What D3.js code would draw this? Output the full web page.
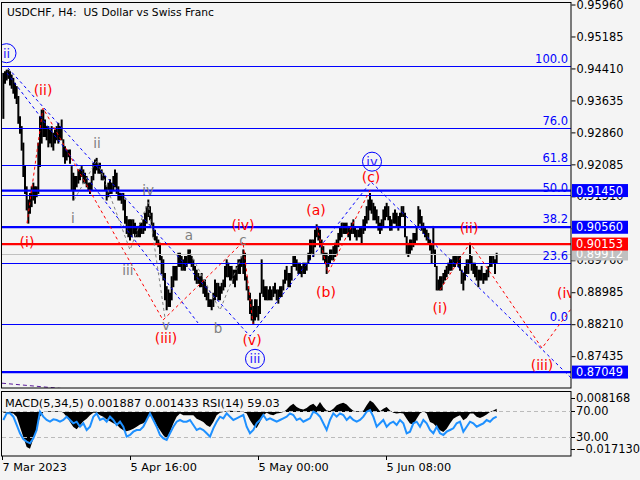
<!DOCTYPE html>
<html><head><meta charset="utf-8">
<script src="https://cdn.jsdelivr.net/npm/d3@7/dist/d3.min.js"></script>
<style>body{margin:0;background:#f4f4f4;}svg{display:block;}text{font-family:"DejaVu Sans",sans-serif;}</style>
</head><body><svg id="c" width="640" height="480"></svg>
<script>
// ---------- DATA ----------
const title = "USDCHF, H4:  US Dollar vs Swiss Franc";
const highs = [.9429,.9433,.9437,.9437,.9433,.9425,.9417,.9405,.9397,.9373,.9324,.9300,.9260,.9203,.9154,.9122,.9138,.9154,.9163,.9154,
.9154,.9260,.9324,.9340,.9340,.9316,.9300,.9300,.9292,.9300,.9284,.9292,.9300,.9308,.9300,.9316,.9268,.9251,.9243,.9243,
.9243,.9203,.9187,.9179,.9179,.9195,.9195,.9203,.9195,.9187,.9179,.9163,.9163,.9179,.9211,.9219,.9223,.9211,.9211,.9195,
.9187,.9179,.9154,.9163,.9171,.9163,.9179,.9195,.9187,.9154,.9138,.9138,.9138,.9122,.9082,.9074,.9074,.9074,.9074,.9066,
.9058,.9058,.9066,.9066,.9074,.9090,.9106,.9122,.9106,.9090,.9066,.9049,.9033,.9025,.9017,.8985,.8977,.8944,.8912,.8904,
.8896,.8936,.8961,.8961,.8961,.8993,.8993,.8985,.8977,.8985,.8985,.9001,.9001,.8985,.8977,.8961,.8952,.8944,.8936,.8944,
.8928,.8928,.8912,.8896,.8880,.8880,.8896,.8928,.8920,.8920,.8912,.8920,.8928,.8961,.8977,.8969,.8961,.8961,.8952,.8952,
.8961,.8977,.8977,.8985,.9001,.8993,.8936,.8912,.8896,.8880,.8864,.8880,.8880,.8864,.8896,.8977,.8928,.8912,.8912,.8904,
.8912,.8904,.8912,.8920,.8904,.8904,.8912,.8912,.8928,.8952,.8961,.8944,.8944,.8961,.8985,.8985,.8977,.8969,.8969,.8961,
.8969,.8969,.8969,.8993,.9025,.9025,.9025,.9049,.9062,.9058,.9049,.9025,.9009,.8993,.8993,.8985,.9001,.9001,.9009,.9017,
.9025,.9041,.9058,.9066,.9066,.9066,.9066,.9058,.9058,.9066,.9074,.9058,.9049,.9049,.9058,.9058,.9074,.9082,.9106,.9122,
.9138,.9122,.9114,.9106,.9098,.9082,.9066,.9074,.9098,.9106,.9114,.9106,.9082,.9074,.9090,.9098,.9090,.9082,.9090,.9106,
.9106,.9090,.9033,.9017,.9025,.9025,.9041,.9041,.9058,.9106,.9098,.9082,.9066,.9058,.9049,.9041,.9025,.9017,.9058,.9001,
.8961,.8928,.8936,.8936,.8944,.8952,.8961,.8969,.8977,.8977,.8985,.8985,.8985,.8985,.8985,.8952,.8944,.8961,.8977,.8977,
.9017,.8985,.8969,.8969,.8961,.8952,.8952,.8961,.8944,.8944,.8952,.8961,.8985,.8985,.8985,.8977,.8993];
const lows = [.9320,.9405,.9413,.9417,.9401,.9393,.9381,.9369,.9356,.9308,.9284,.9243,.9179,.9138,.9098,.9066,.9090,.9106,.9122,.9114,
.9130,.9138,.9203,.9260,.9276,.9276,.9268,.9251,.9260,.9251,.9243,.9260,.9268,.9260,.9268,.9268,.9227,.9211,.9219,.9227,
.9211,.9146,.9122,.9146,.9154,.9163,.9171,.9179,.9163,.9163,.9154,.9146,.9138,.9146,.9171,.9187,.9195,.9187,.9187,.9171,
.9171,.9146,.9122,.9130,.9138,.9138,.9146,.9154,.9138,.9122,.9122,.9114,.9098,.9066,.9041,.9033,.9025,.9033,.9041,.9033,
.9033,.9033,.9033,.9041,.9041,.9049,.9066,.9082,.9074,.9058,.9033,.9025,.9017,.9009,.8977,.8944,.8928,.8880,.8856,.8864,
.8864,.8880,.8912,.8928,.8928,.8961,.8961,.8952,.8952,.8952,.8961,.8969,.8969,.8961,.8952,.8928,.8920,.8920,.8912,.8912,
.8896,.8888,.8880,.8864,.8864,.8856,.8864,.8880,.8888,.8880,.8880,.8896,.8904,.8912,.8936,.8936,.8928,.8928,.8920,.8912,
.8928,.8944,.8944,.8961,.8944,.8928,.8904,.8880,.8847,.8831,.8823,.8831,.8839,.8831,.8847,.8896,.8888,.8880,.8880,.8880,
.8880,.8880,.8888,.8896,.8880,.8872,.8888,.8888,.8904,.8920,.8928,.8912,.8912,.8928,.8961,.8961,.8952,.8944,.8944,.8936,
.8944,.8944,.8952,.8969,.8977,.8993,.8985,.9009,.9033,.9025,.9009,.8993,.8977,.8969,.8944,.8961,.8969,.8977,.8977,.8985,
.8993,.9009,.9025,.9033,.9041,.9041,.9041,.9033,.9025,.9041,.9041,.9033,.9025,.9033,.9033,.9017,.9041,.9049,.9066,.9074,
.9098,.9090,.9074,.9074,.9066,.9049,.9041,.9049,.9058,.9074,.9082,.9074,.9049,.9049,.9066,.9066,.9058,.9049,.9058,.9082,
.9082,.9033,.8993,.8985,.8993,.9001,.9009,.9017,.9025,.9058,.9066,.9049,.9041,.9033,.9025,.9017,.9001,.8969,.8993,.8961,
.8904,.8904,.8904,.8904,.8920,.8928,.8936,.8944,.8952,.8952,.8961,.8961,.8969,.8961,.8952,.8920,.8904,.8928,.8944,.8944,
.8969,.8952,.8944,.8936,.8928,.8912,.8928,.8928,.8920,.8928,.8928,.8936,.8961,.8961,.8969,.8944,.8969];
const lastPrice = 0.89912;
const priceTicks = [0.95960,0.95185,0.94410,0.93635,0.92860,0.92085,0.91310,0.90535,0.89760,0.88985,0.88210,0.87435];
const fibHigh = 0.94462, fibLow = 0.88208;
const fibLevels = [100.0,76.0,61.8,50.0,38.2,23.6,0.0];
const blueLevels = [0.91450,0.90560,0.87049];
const redLevels = [0.90153];
const xTickLabels = ["7 Mar 2023","5 Apr 16:00","5 May 00:00","5 Jun 08:00"];
const xTickIndex = [-0.8,76,152.8,229.6];
// MACD histogram and RSI, one value every 2 bars
const macdHist = [-0.0003,-0.0003,-0.0004,-0.0006,-0.0019,-0.0058,-0.0097,-0.0136,-0.0143,-0.0104,-0.0065,-0.0019,0,0.0003,0.0003,0.0003,0.0003,0.0003,-0.0003,-0.0019,
-0.0039,-0.0058,-0.0067,-0.0052,-0.0036,-0.0026,-0.0013,-0.0003,-0.0003,-0.0013,-0.0019,-0.0029,-0.0036,-0.0044,-0.0049,-0.0062,-0.0071,-0.0075,-0.0071,-0.0065,
-0.0057,-0.0049,-0.0044,-0.0032,-0.0013,-0.0026,-0.0052,-0.0071,-0.0091,-0.0104,-0.0078,-0.0045,-0.0019,-0.0006,-0.0013,-0.0013,-0.0013,-0.0013,-0.0026,-0.0032,
-0.0039,-0.0052,-0.0058,-0.0039,-0.0013,-0.0003,0,0.0004,0.0005,0.0004,0.0003,0.0003,0,-0.0006,-0.0032,-0.0052,-0.0062,-0.0039,-0.0013,-0.0003,
-0.0010,-0.0013,-0.0006,-0.0004,0,0.0010,0.0023,0.0032,0.0019,0.0013,0.0010,0.0016,0.0026,0.0032,0.0019,0.0039,0.0019,0.0006,0.0004,0.0013,
0.0026,0.0032,0.0036,0.0029,0.0016,0.0005,0.0003,0.0003,0.0005,0.0026,0.0045,0.0036,0.0019,0.0003,0.0013,0.0019,0.0006,-0.0003,-0.0006,-0.0004,
-0.0006,-0.0026,-0.0045,-0.0049,-0.0026,-0.0006,0.0003,-0.0006,-0.0039,-0.0045,-0.0058,-0.0071,-0.0078,-0.0065,-0.0045,-0.0026,-0.0019,-0.0013,-0.0032,-0.0023,
-0.0006,-0.0006,-0.0019,-0.0023,-0.0018,-0.0010,0,0.0006,0.0013];
const rsiVals = [55.4,65.6,65.6,60.5,47.7,34.9,25.9,22.1,19.5,27.2,40.0,68.2,60.5,55.4,52.8,56.4,55.4,52.8,55.4,60.5,
55.4,50.3,52.8,45.1,50.3,40.0,45.1,60.5,65.6,55.4,57.9,52.8,60.5,55.4,47.7,52.8,45.1,29.7,32.3,37.4,
40.0,40.0,45.1,55.4,65.6,55.4,45.1,32.3,27.2,24.6,34.9,45.1,52.8,55.4,52.8,52.8,55.4,47.7,40.0,42.6,
40.0,34.9,29.7,42.6,52.8,60.5,57.9,65.6,60.5,55.4,57.9,60.5,63.1,45.1,34.9,40.0,50.3,55.4,63.1,55.4,
57.9,55.4,52.8,55.4,57.9,60.5,65.6,63.1,55.4,57.9,52.8,55.4,57.9,68.2,65.6,
60.5,50.3,40.0,55.4,65.6,60.5,65.6,63.1,55.4,60.5,55.4,52.8,55.4,60.5,68.2,70.8,60.5,45.1,50.3,55.4,
45.1,50.3,52.8,47.7,55.4,50.3,34.9,37.4,50.3,52.8,45.1,55.4,50.3,40.0,34.9,45.1,34.9,32.3,37.4,40.0,
42.6,50.3,52.8,37.4,45.1,52.8,50.3,45.1,47.7,50.3,55.4,52.8,57.9,60.5];
const macdMax = 0.008168, macdMin = -0.017130;
const rsiLevels = [70, 30];
const indicatorText = "MACD(5,34,5) 0.001887 0.001433 RSI(14) 59.03";
// wave paths: [bar index, price]
const blueWave = [[2.8,0.9442],[148,0.8792],[220.6,0.9166],[340.6,0.8691]];
const blueChannel = [[2.2,0.9430],[116.8,0.8824]];
const redWaveA = [[14.2,0.9066],[23.8,0.9345],[95.8,0.8831],[143.8,0.9020],[149.8,0.8822]];
const redWaveB = [[188.2,0.9057],[194.8,0.8945],[220,0.9146]];
const redWaveC = [[262,0.8904],[280,0.9018],[323.2,0.8763],[349,0.8904]];
const grayWaveA = [[42.4,0.9122],[56.2,0.9219],[76,0.9001],[86.8,0.9117],[97,0.8836]];
const grayWaveB = [[112,0.8994],[130,0.8855],[143.8,0.8994]];
const purpleLine = [[-0.8,0.8678],[46,0.8661]];
const redLabels = [["(i)",14.2,0.9020],["(ii)",23.8,0.9389],["(iii)",97.6,0.8788],["(iv)",143.8,0.9061],["(v)",149.2,0.8783],
 ["(a)",187.6,0.9098],["(b)",193.6,0.8899],["(c)",220.6,0.9178],["(i)",262,0.8860],["(ii)",279.4,0.9054],["(iii)",323.2,0.8722],["(iv)",339.1,0.8897]];
const grayLabels = [["i",41.8,0.9078],["ii",56.2,0.9260],["iii",74.8,0.8952],["iv",86.8,0.9146],["v",97.6,0.8819],
 ["a",111.4,0.9037],["b",128.8,0.8812],["c",143.8,0.9025]];
const circleLabels = [["ii",1.9,0.9478],["iii",151,0.8737],["iv",221.2,0.9215]];

// ---------- LAYOUT ----------
const L=2, R=571, T=2, B=388, ST=391, SB=456;
const BLUE="#0000ff", RED="#ff0000", GRAY="#808080";
const svg = d3.select("#c");
svg.append("rect").attr("width",640).attr("height",480).attr("fill","#f4f4f4");
const defs = svg.append("defs");
defs.append("clipPath").attr("id","mainClip").append("rect").attr("x",L).attr("y",T).attr("width",R-L).attr("height",B-T);
defs.append("clipPath").attr("id","subClip").append("rect").attr("x",L).attr("y",ST).attr("width",R-L).attr("height",SB-ST);

const x = d3.scaleLinear().domain([0, highs.length-1]).range([10/3, 1490/3]);
const y = d3.scaleLinear().domain([0.86663, 0.96021]).range([B, T]);
const ym = d3.scaleLinear().domain([macdMin, macdMax]).range([SB, ST]);
const yr = d3.scaleLinear().domain([0, 100]).range([SB, ST]);
const snap = v => Math.round(v) + 0.5;

const main = svg.append("g").attr("clip-path","url(#mainClip)");

// bars
main.append("g").selectAll("line").data(highs).join("line")
  .attr("x1",(d,i)=>x(i)).attr("x2",(d,i)=>x(i))
  .attr("y1",d=>y(d)-0.5).attr("y2",(d,i)=>y(lows[i])+0.5)
  .attr("stroke","#000").attr("stroke-width",2);

// current price line
main.append("line").attr("x1",L).attr("x2",R).attr("y1",snap(y(lastPrice))).attr("y2",snap(y(lastPrice)))
  .attr("stroke","#c0c0c0").attr("stroke-width",1);

// fibonacci
const fibPrice = l => fibLow + (fibHigh - fibLow) * l / 100;
main.append("g").selectAll("line").data(fibLevels).join("line")
  .attr("x1",L).attr("x2",R).attr("y1",d=>snap(y(fibPrice(d)))).attr("y2",d=>snap(y(fibPrice(d))))
  .attr("stroke",BLUE).attr("stroke-width",1);
main.append("g").selectAll("text").data(fibLevels).join("text")
  .attr("x",568).attr("y",d=>y(fibPrice(d))-3).attr("text-anchor","end")
  .attr("font-size","11.5px").attr("fill",BLUE).text(d=>d.toFixed(1));

// level lines
main.append("g").selectAll("line").data(blueLevels).join("line")
  .attr("x1",L).attr("x2",R).attr("y1",d=>y(d)).attr("y2",d=>y(d))
  .attr("stroke",BLUE).attr("stroke-width",2.2);
main.append("g").selectAll("line").data(redLevels).join("line")
  .attr("x1",L).attr("x2",R).attr("y1",d=>y(d)).attr("y2",d=>y(d))
  .attr("stroke",RED).attr("stroke-width",2.2);

// wave lines
const lineGen = d3.line().x(d=>x(d[0])).y(d=>y(d[1]));
function wave(data,color,dash){
  main.append("path").attr("d",lineGen(data)).attr("fill","none")
    .attr("stroke",color).attr("stroke-width",1).attr("stroke-dasharray",dash);
}
wave(blueChannel,BLUE,"3,3");
wave(blueWave,BLUE,"3,3");
wave(grayWaveA,GRAY,"3,3");
wave(grayWaveB,GRAY,"3,3");
wave(redWaveA,RED,"3,3");
wave(redWaveB,RED,"3,3");
wave(redWaveC,RED,"3,3");
wave(purpleLine,"#5a1a9a","4,3");

// labels
main.append("g").selectAll("text").data(grayLabels).join("text")
  .attr("x",d=>x(d[1])).attr("y",d=>y(d[2])).attr("text-anchor","middle").attr("dominant-baseline","central")
  .attr("font-size","13.5px").attr("fill",GRAY).text(d=>d[0]);
const cg = main.append("g").selectAll("g").data(circleLabels).join("g")
  .attr("transform",d=>`translate(${x(d[1])},${y(d[2])})`);
cg.append("circle").attr("r",9.5).attr("fill","none").attr("stroke",BLUE).attr("stroke-width",1);
cg.append("text").attr("text-anchor","middle").attr("dominant-baseline","central")
  .attr("font-size","13px").attr("fill","#2a1aff").text(d=>d[0]);
main.append("g").selectAll("text").data(redLabels).join("text")
  .attr("x",d=>x(d[1])).attr("y",d=>y(d[2])).attr("text-anchor","middle").attr("dominant-baseline","central")
  .attr("font-size","14px").attr("fill",RED).text(d=>d[0]);

// title
svg.append("text").attr("x",7).attr("y",16).attr("font-size","10.7px").attr("fill","#000")
  .style("white-space","pre").attr("xml:space","preserve").text(title);

// frames
svg.append("rect").attr("x",L-0.5).attr("y",T+0.5).attr("width",R-L+0.5).attr("height",B-T-0.5)
  .attr("fill","none").attr("stroke","#000").attr("stroke-width",1);
svg.append("rect").attr("x",L-0.5).attr("y",ST+0.5).attr("width",R-L+0.5).attr("height",SB-ST-0.5)
  .attr("fill","none").attr("stroke","#000").attr("stroke-width",1);

// price axis
const pa = svg.append("g").attr("transform",`translate(${R+0.5},0)`)
  .call(d3.axisRight(y).tickValues(priceTicks).tickSize(4).tickPadding(1).tickFormat(d3.format(".5f")));
pa.select(".domain").remove();
pa.selectAll("text").attr("font-size","11.4px").attr("font-family","DejaVu Sans").attr("fill","#000");
pa.selectAll("line").attr("stroke","#000");

// price boxes
function priceBox(p,color){
  const g = svg.append("g").attr("transform",`translate(${R+1},${y(p)})`);
  g.append("rect").attr("x",0).attr("y",-6.5).attr("width",56).attr("height",13).attr("fill",color);
  g.append("text").attr("x",4).attr("y",0).attr("dominant-baseline","central")
    .attr("font-size","11.4px").attr("fill","#fff").text(d3.format(".5f")(p));
}
priceBox(lastPrice,"#c0c0c0");
redLevels.forEach(p=>priceBox(p,RED));
blueLevels.forEach(p=>priceBox(p,BLUE));

// ---------- SUB PANEL ----------
const sub = svg.append("g").attr("clip-path","url(#subClip)");
sub.append("path").datum(macdHist)
  .attr("d",d3.area().x((d,i)=>x(2*i)).y0(ym(0)).y1(d=>ym(d)))
  .attr("fill","#000");
sub.append("g").selectAll("line").data(rsiLevels).join("line")
  .attr("x1",L).attr("x2",R).attr("y1",d=>snap(yr(d))).attr("y2",d=>snap(yr(d)))
  .attr("stroke","#bbbbbb").attr("stroke-width",1).attr("stroke-dasharray","4,3");
sub.append("path").datum(rsiVals)
  .attr("d",d3.line().x((d,i)=>x(2*i)).y(d=>yr(d)))
  .attr("fill","none").attr("stroke","#1e90ff").attr("stroke-width",2);
svg.append("text").attr("x",5).attr("y",407).attr("font-size","11.3px").attr("fill","#000").text(indicatorText);

// sub axis
const subTicks = [[ym(macdMax)+7, d3.format(".6f")(macdMax)],[yr(rsiLevels[0]), rsiLevels[0].toFixed(2)],
                  [yr(rsiLevels[1]), rsiLevels[1].toFixed(2)],[ym(macdMin)-7, d3.format(".6f")(macdMin)]];
const sa = svg.append("g");
sa.selectAll("line").data(subTicks).join("line")
  .attr("x1",R).attr("x2",R+4).attr("y1",d=>snap(d[0])).attr("y2",d=>snap(d[0])).attr("stroke","#000");
sa.selectAll("text").data(subTicks).join("text")
  .attr("x",R+5).attr("y",d=>d[0]).attr("dominant-baseline","central")
  .attr("font-size","11.4px").attr("fill","#000").text(d=>d[1]);

// time axis
const ta = svg.append("g").attr("transform",`translate(0,${SB})`)
  .call(d3.axisBottom(x).tickValues(xTickIndex).tickSize(4).tickPadding(3).tickFormat((d,i)=>xTickLabels[i]));
ta.select(".domain").remove();
ta.selectAll("text").attr("font-size","11.3px").attr("font-family","DejaVu Sans").attr("fill","#000")
  .attr("text-anchor","start").attr("dx","0");
ta.selectAll("line").attr("stroke","#000");
</script></body></html>
